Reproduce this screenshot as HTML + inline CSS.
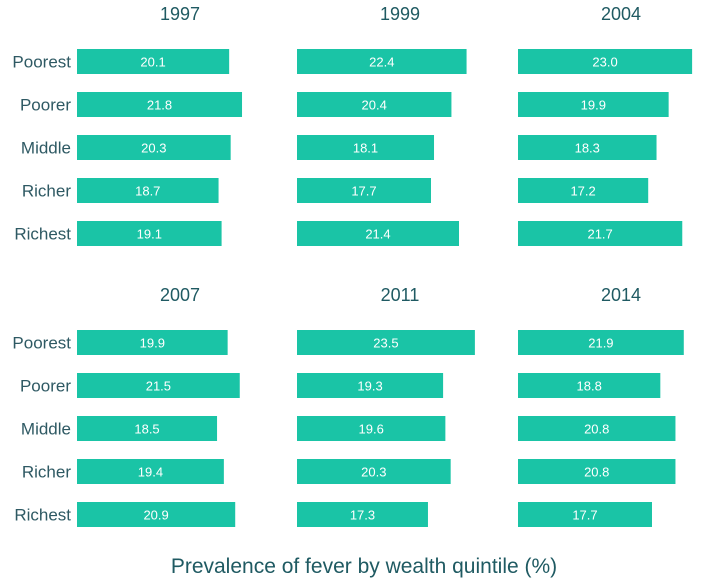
<!DOCTYPE html>
<html><head><meta charset="utf-8"><style>
html,body{margin:0;padding:0;background:#fff;}
svg{display:block;font-family:"Liberation Sans",Arial,sans-serif;}
</style></head><body>
<svg id="c" width="701" height="585"></svg>
<script>
const years = ["1997","1999","2004","2007","2011","2014"];
const quintiles = ["Poorest","Poorer","Middle","Richer","Richest"];
const v1997 = [20.1,21.8,20.3,18.7,19.1];
const v1999 = [22.4,20.4,18.1,17.7,21.4];
const v2004 = [23.0,19.9,18.3,17.2,21.7];
const v2007 = [19.9,21.5,18.5,19.4,20.9];
const v2011 = [23.5,19.3,19.6,20.3,17.3];
const v2014 = [21.9,18.8,20.8,20.8,17.7];
const series = [v1997,v1999,v2004,v2007,v2011,v2014];

const NS="http://www.w3.org/2000/svg";
const svg=document.getElementById('c');
function mk(t,a,txt){const e=document.createElementNS(NS,t);for(const k in a)e.setAttribute(k,a[k]);if(txt!=null)e.textContent=txt;svg.appendChild(e);return e;}
const panelX=[77,297,518], panelY=[49,330];
const scale=7.57, rowStep=43, barH=25;
const xs=(v)=>v*scale;
for(let p=0;p<6;p++){
  const col=p%3,row=Math.floor(p/3);
  const x0=panelX[col], y0=panelY[row];
  const t=mk('text',{x:x0+103,y:y0-29,'text-anchor':'middle','font-size':18,fill:'#1f5a62'},years[p]);
  
  
  for(let i=0;i<5;i++){
    const y=y0+i*rowStep, v=series[p][i];
    const r=mk('rect',{x:x0,y:y,width:xs(v),height:barH,fill:'#1ac4a6'});
    
    
    const l=mk('text',{x:x0+xs(v)/2,y:y+barH/2+5,'text-anchor':'middle','font-size':13,fill:'#fff'},v.toFixed(1));
    
    
    if(col===0){
      const q=mk('text',{x:71,y:y+barH/2+6,'text-anchor':'end','font-size':17,fill:'#2e5963'},quintiles[i]);
      
      
    }
  }
}
const ft=mk('text',{x:364,y:573,'text-anchor':'middle','font-size':21,fill:'#1f5a62'},"Prevalence of fever by wealth quintile (%)");


</script>
</body></html>
